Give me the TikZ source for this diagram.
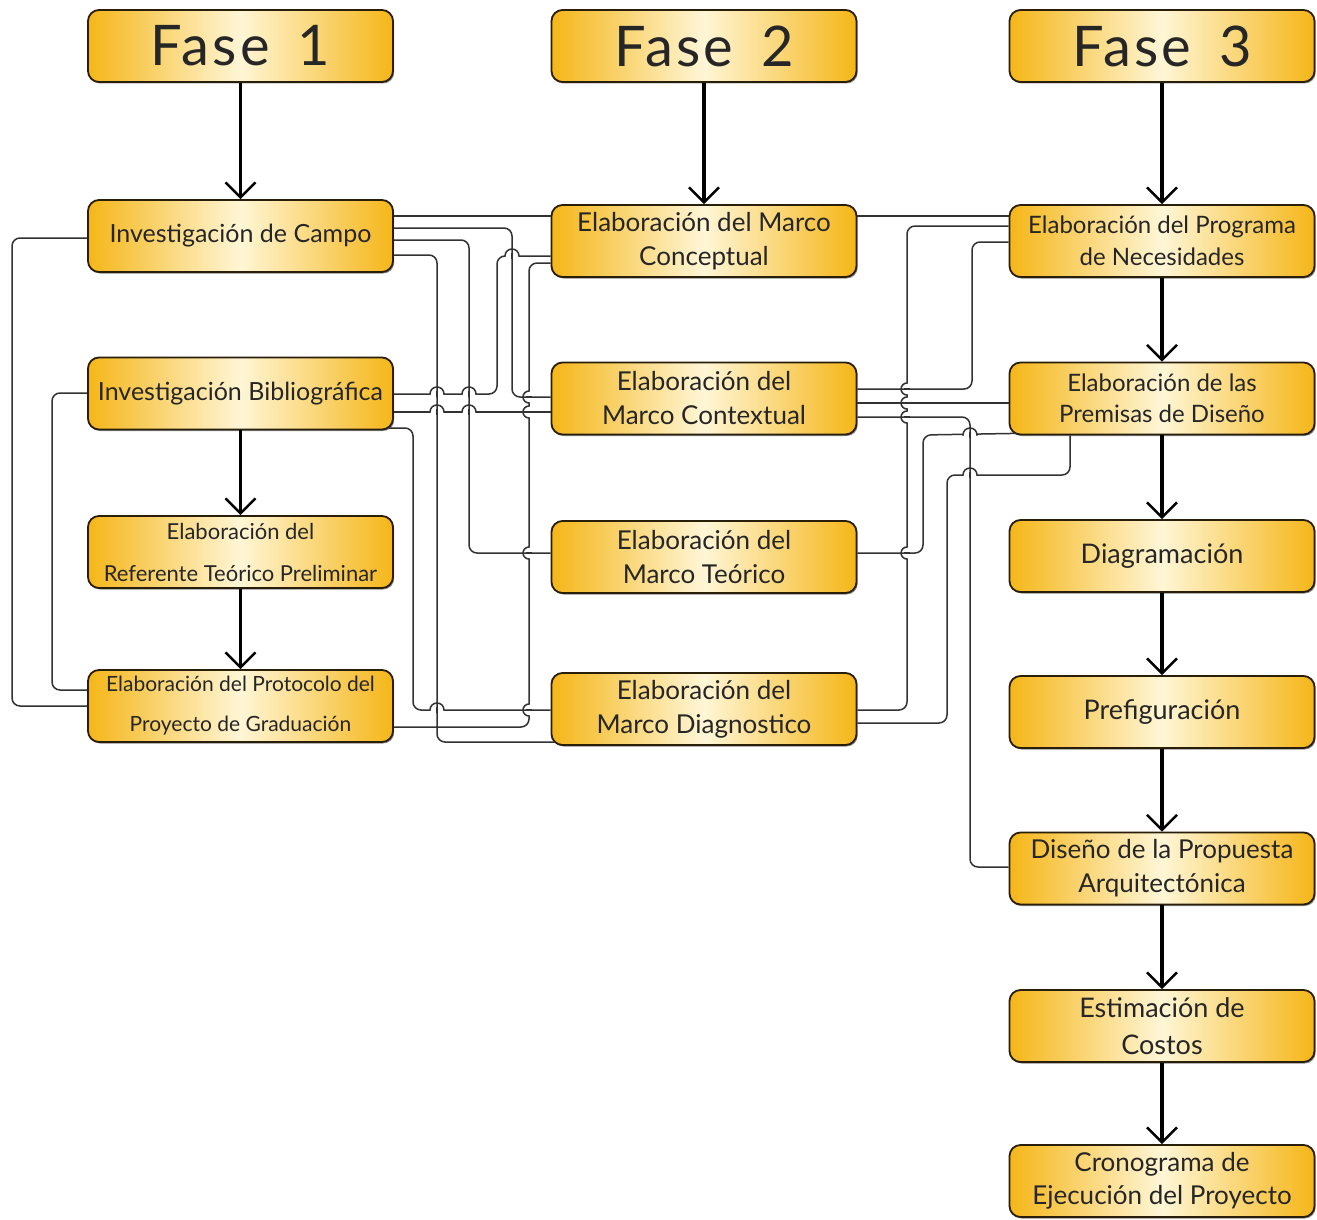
\documentclass[tikz,border=0pt]{standalone}
\usepackage{fontspec}
\setmainfont{Lato}
\usetikzlibrary{arrows.meta,shadows}
\definecolor{gold}{RGB}{245,182,24}
\definecolor{cream}{RGB}{255,246,214}
\definecolor{bord}{RGB}{40,30,10}
\definecolor{txt}{RGB}{38,38,38}
\definecolor{wire}{RGB}{50,50,50}
\newcommand\fsz[2]{\fontsize{#1}{#2}\selectfont}
\tikzset{
 x=1pt,y=-1pt,
 box/.style={draw=bord, line width=1.8pt, rounded corners=11pt, left color=gold, right color=gold, middle color=cream,
   minimum width=305pt, minimum height=72pt, inner sep=0pt, align=center, text=txt,
   drop shadow={shadow xshift=1.2pt,shadow yshift=-1.5pt,fill=black,opacity=0.45}},
 fasebox/.style={box, font=\fsz{56}{60}\addfontfeature{LetterSpace=6}},
 conn/.style={draw=wire, line width=1.5pt, rounded corners=8pt},
 hop/.style={draw=wire, line width=1.5pt},
 flow/.style={draw=black, line width=3.5pt, -{Straight Barb[length=15pt,width=30pt,line width=2.4pt]}},
}
% horizontal line jumping over a vertical one at (#1,#2)
\newcommand\hoph[2]{%
 \fill[white] (#1-7,#2-2.2) rectangle (#1+7,#2+2.2);
 \draw[hop] (#1-7.6,#2) -- (#1-7,#2) .. controls (#1-7,#2-3.9) and (#1-3.9,#2-7) .. (#1,#2-7)
   .. controls (#1+3.9,#2-7) and (#1+7,#2-3.9) .. (#1+7,#2) -- (#1+7.6,#2);
 \draw[hop] (#1,#2-2.6) -- (#1,#2+2.6);}
% vertical line jumping over a horizontal one at (#1,#2), bulging left
\newcommand\hopv[2]{%
 \fill[white] (#1-2.2,#2-6) rectangle (#1+2.2,#2+6);
 \draw[hop] (#1,#2-6.6) -- (#1,#2-6) .. controls (#1-3.3,#2-6) and (#1-6,#2-3.3) .. (#1-6,#2)
   .. controls (#1-6,#2+3.3) and (#1-3.3,#2+6) .. (#1,#2+6) -- (#1,#2+6.6);
 \draw[hop] (#1-2.6,#2) -- (#1+2.6,#2);}
\begin{document}
\begin{tikzpicture}
\useasboundingbox[fill=white] (0,0) rectangle (1317,1220);
% column 1
\node[fasebox] (f1) at (240.5,46) {Fase\hspace{0.5em}1};
\node[box, font=\fsz{25}{34}] (ic) at (240.5,236) {Investigación de Campo};
\node[box, font=\fsz{25}{34}] (ib) at (240.5,393.5) {Investigación Bibliográfica};
\node[box, font=\fsz{22}{42}] (ertp) at (240.5,552) {Elaboración del\\Referente Teórico Preliminar};
\node[box, font=\fsz{21}{40}] (eppg) at (240.5,706) {Elaboración del Protocolo del\\Proyecto de Graduación};
% column 2
\node[fasebox] (f2) at (704,46) {Fase\hspace{0.5em}2};
\node[box, font=\fsz{26}{34}] (emc) at (704,241) {Elaboración del Marco\\Conceptual};
\node[box, font=\fsz{26}{34}] (emcx) at (704,398.5) {Elaboración del\\Marco Contextual};
\node[box, font=\fsz{26}{34}] (emt) at (704,557) {Elaboración del\\Marco Teórico};
\node[box, font=\fsz{26}{34}] (emd) at (704,709) {Elaboración del\\Marco Diagnostico};
% column 3
\node[fasebox] (f3) at (1162,46) {Fase\hspace{0.5em}3};
\node[box, font=\fsz{24}{32}] (epn) at (1162,241) {Elaboración del Programa\\de Necesidades};
\node[box, font=\fsz{24}{31}] (epd) at (1162,398.5) {Elaboración de las\\Premisas de Diseño};
\node[box, font=\fsz{27}{34}] (diag) at (1162,556) {Diagramación};
\node[box, font=\fsz{27}{34}] (pref) at (1162,712) {Prefiguración};
\node[box, font=\fsz{26}{34}] (dpa) at (1162,868.5) {Diseño de la Propuesta\\Arquitectónica};
\node[box, font=\fsz{27}{37}] (ec) at (1162,1026) {Estimación de\\Costos};
\node[box, font=\fsz{26}{33}] (cep) at (1162,1181) {Cronograma de\\Ejecución del Proyecto};
% main flow arrows
\draw[flow] (f1) -- (ic);
\draw[flow] (ib) -- (ertp);
\draw[flow] (ertp) -- (eppg);
\draw[flow] (f2) -- (emc);
\draw[flow] (f3) -- (epn);
\draw[flow] (epn) -- (epd);
\draw[flow] (epd) -- (diag);
\draw[flow] (diag) -- (pref);
\draw[flow] (pref) -- (dpa);
\draw[flow] (dpa) -- (ec);
\draw[flow] (ec) -- (cep);
% connectors between column 1 and column 2
\draw[conn] (ic.east |- 0,216) -- (emc.west |- 0,216);
\draw[conn] (ic.east |- 0,228) -- (512,228) -- (512,397) -- (emcx.west |- 0,397);
\draw[conn] (ic.east |- 0,240) -- (469,240) -- (469,553) -- (emt.west |- 0,553);
\draw[conn] (ic.east |- 0,255) -- (437,255) -- (437,742) -- ([xshift=4pt]emd.west |- 0,742);
\draw[conn] (ic.west |- 0,238) -- (12,238) -- (12,706) -- (eppg.west |- 0,706);
\draw[conn] (ib.west |- 0,393) -- (52,393) -- (52,690) -- (eppg.west |- 0,690);
\draw[conn] (emc.west |- 0,256) -- (497,256) -- (497,394) -- (ib.east |- 0,394);
\draw[conn] (emc.west |- 0,263) -- (529,263) -- (529,727) -- (eppg.east |- 0,727);
\draw[conn] (ib.east |- 0,412) -- (emcx.west |- 0,412);
\draw[conn] ([xshift=-5pt]ib.east |- 0,428) -- (413,428) -- (413,710) -- (emd.west |- 0,710);
% connectors between column 2 and column 3
\draw[conn] (emc.east |- 0,216) -- (epn.west |- 0,216);
\draw[conn] (epn.west |- 0,226) -- (907,226) -- (907,710) -- (emd.east |- 0,710);
\draw[conn] (epn.west |- 0,242) -- (972,242) -- (972,389) -- (emcx.east |- 0,389);
\draw[conn] (emcx.east |- 0,403) -- (epd.west |- 0,403);
\draw[conn] (emcx.east |- 0,417) -- (970,417) -- (970,867) -- (dpa.west |- 0,867);
\draw[conn] (emt.east |- 0,553) -- (923,553) -- (923,435) -- ([xshift=7pt,yshift=2pt]epd.south west);
\draw[conn] (emd.east |- 0,723) -- (947,723) -- (947,475) -- (1070,475) -- (epd.south -| 1070,0);
% line jumps at crossings
\hoph{512}{256} \hoph{469}{394} \hoph{437}{394} \hoph{437}{412} \hoph{469}{412}
\hoph{437}{710} \hoph{970}{435} \hoph{970}{475}
\hopv{529}{397} \hopv{529}{412} \hopv{529}{553} \hopv{529}{710}
\hopv{907}{389} \hopv{907}{403} \hopv{907}{417} \hopv{907}{553}
\end{tikzpicture}
\end{document}
